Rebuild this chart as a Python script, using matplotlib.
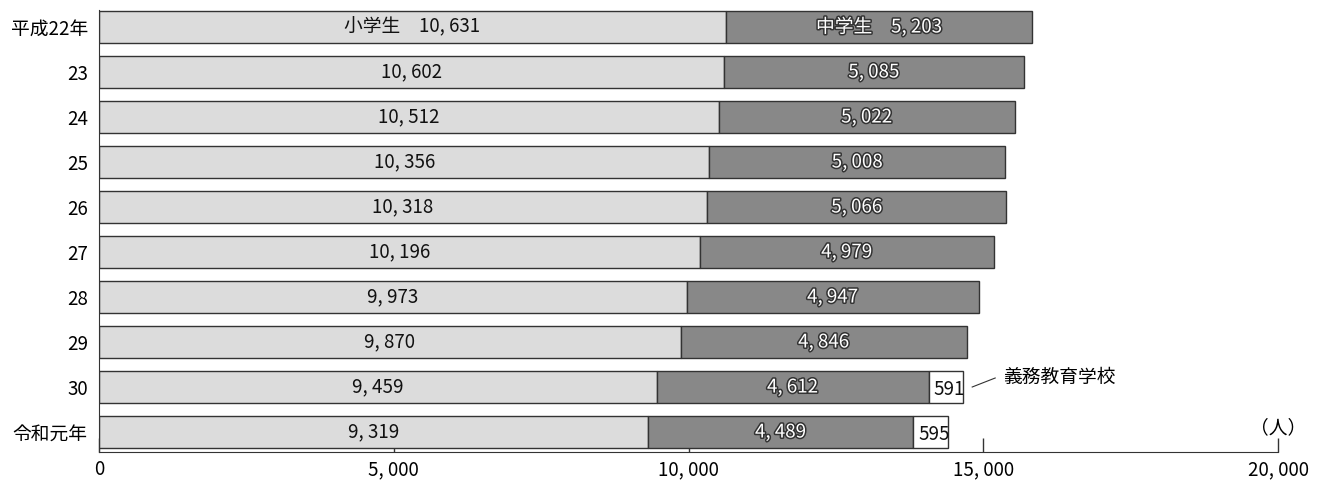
import matplotlib.pyplot as plt
import matplotlib.patheffects as pe

plt.rcParams['font.family'] = ['Noto Sans CJK JP', 'DejaVu Sans']

# データ
years = ['平成22年', '23', '24', '25', '26', '27', '28', '29', '30', '令和元年']
shogaku = [10631, 10602, 10512, 10356, 10318, 10196, 9973, 9870, 9459, 9319]
chugaku = [5203, 5085, 5022, 5008, 5066, 4979, 4947, 4846, 4612, 4489]
gimu = [0, 0, 0, 0, 0, 0, 0, 0, 591, 595]
xticks = [0, 5000, 10000, 15000, 20000]


def fmt(v):
    return f'{v:,}'.replace(',', ', ')


fig = plt.figure(figsize=(13.21, 4.87), dpi=100)
ax = fig.add_axes([0.0749, 0.0719, 0.8926, 0.9076])
ax.set_axisbelow(True)

y = list(range(len(years)))
h = 0.73
edge = '#333333'
ax.barh(y, shogaku, height=h, color='#dcdcdc', edgecolor=edge, linewidth=1)
ax.barh(y, chugaku, height=h, left=shogaku, color='#888888', edgecolor=edge, linewidth=1)
left2 = [a + b for a, b in zip(shogaku, chugaku)]
for i, g in enumerate(gimu):
    if g > 0:
        ax.barh(i, g, height=h, left=left2[i], color='white', edgecolor=edge, linewidth=1)

outline = [pe.withStroke(linewidth=2.2, foreground='#333333')]
fs = 13.5
for i in y:
    s = fmt(shogaku[i])
    c = fmt(chugaku[i])
    if i == 0:
        s = '小学生　' + s
        c = '中学生　' + c
    ax.text(shogaku[i] / 2, i, s, ha='center', va='center', fontsize=fs, color='#111111')
    ax.text(shogaku[i] + chugaku[i] / 2, i, c, ha='center', va='center', fontsize=fs,
            color='white', path_effects=outline)
    if gimu[i] > 0:
        ax.text(left2[i] + gimu[i] / 2 + 60, i + 0.05, f'{gimu[i]}', ha='center', va='center',
                fontsize=fs, color='#111111')

# 義務教育学校の注記
end8 = left2[8] + gimu[8]
ax.plot([end8 + 150, end8 + 540], [8.0, 7.8], color='#333333', lw=0.8)
ax.text(end8 + 680, 7.78, '義務教育学校', ha='left', va='center', fontsize=fs)
ax.text(20000, 8.9, '（人）', ha='center', va='center', fontsize=fs)

ax.set_yticks(y)
ax.set_yticklabels(years, fontsize=fs)
ax.set_ylim(9.444, -0.378)
ax.set_xlim(0, 20000)
ax.set_xticks(xticks)
ax.set_xticklabels([fmt(v) for v in xticks], fontsize=fs)
ax.tick_params(axis='x', direction='in', length=10, width=1, color='#333333', pad=5)
ax.tick_params(axis='y', length=0, pad=8)
for sp in ['top', 'right']:
    ax.spines[sp].set_visible(False)
for sp in ['left', 'bottom']:
    ax.spines[sp].set_color('#333333')

fig.savefig('out.png', dpi=100)
